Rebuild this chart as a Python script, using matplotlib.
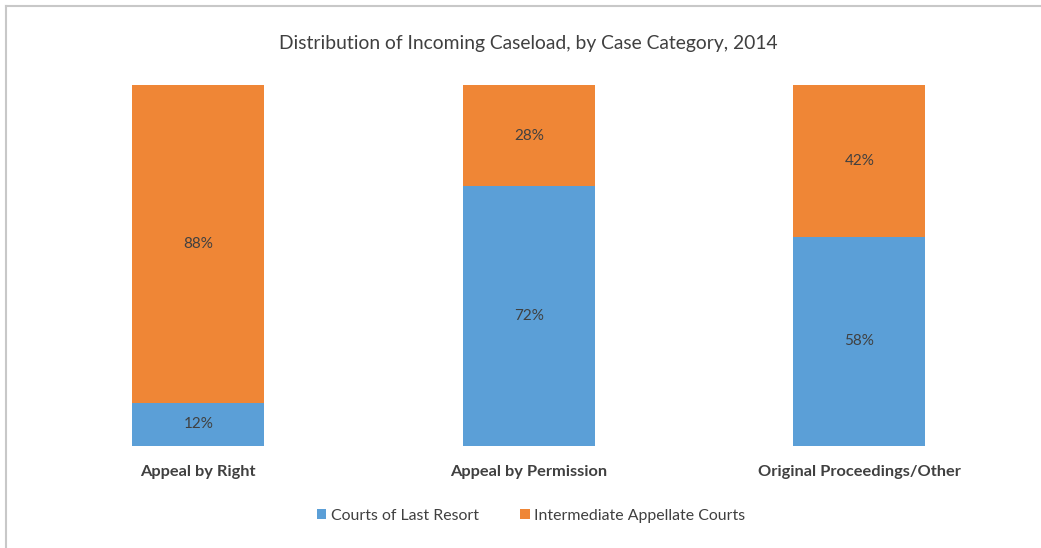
import matplotlib
matplotlib.use("Agg")
import matplotlib.pyplot as plt
from matplotlib.lines import Line2D
from matplotlib.patches import Patch

categories = ["Appeal by Right", "Appeal by Permission", "Original Proceedings/Other"]
last_resort = [12, 72, 58]
intermediate = [88, 28, 42]
series_names = ["Courts of Last Resort", "Intermediate Appellate Courts"]
title = "Distribution of Incoming Caseload, by Case Category, 2014"

BLUE = "#5B9FD7"
ORANGE = "#EF8636"
TXT = "#404040"
FONT = ["Lato", "DejaVu Sans"]

W, H = 1041, 548
fig = plt.figure(figsize=(W / 100, H / 100), dpi=100)
fig.patch.set_facecolor("white")

# axes: bars from y=85 (100%) to y=446 (0); categories spacing 330.5 px
left_px, right_px = 33, 1024.5
top_px, bot_px = 85, 446
ax = fig.add_axes([left_px / W, 1 - bot_px / H, (right_px - left_px) / W, (bot_px - top_px) / H])
x = list(range(len(categories)))
bw = 0.399
ax.bar(x, last_resort, width=bw, color=BLUE, label=series_names[0])
ax.bar(x, intermediate, width=bw, bottom=last_resort, color=ORANGE, label=series_names[1])
for i in x:
    ax.text(i, last_resort[i] / 2, f"{last_resort[i]}%", ha="center", va="center",
            fontsize=11, color=TXT, family=FONT)
    ax.text(i, last_resort[i] + intermediate[i] / 2, f"{intermediate[i]}%", ha="center", va="center",
            fontsize=11, color=TXT, family=FONT)
ax.set_xlim(-0.5, 2.5)
ax.set_ylim(0, 100)
ax.set_yticks([])
ax.set_xticks(x)
ax.set_xticklabels(categories, fontsize=11.8, fontweight="bold", color=TXT, family=FONT)
ax.tick_params(axis="x", length=0, pad=14)
for s in ax.spines.values():
    s.set_visible(False)

fig.text(528 / W, 1 - 44 / H, title, ha="center", va="center", fontsize=13.9, color=TXT, family=FONT)

handles = [Patch(facecolor=BLUE), Patch(facecolor=ORANGE)]
fig.legend(handles, series_names, loc="center", bbox_to_anchor=(531 / W, 1 - 516 / H),
           ncol=2, frameon=False, handlelength=0.6, handleheight=0.6,
           handletextpad=0.3, columnspacing=2.6, labelcolor=TXT, prop={"family": FONT, "size": 11.4})

# light gray frame (top and left edges visible)
fig.add_artist(Line2D([5.5 / W, 5.5 / W], [0, 1 - 5.5 / H], color="#C8C8C8", lw=1.5, transform=fig.transFigure))
fig.add_artist(Line2D([5.5 / W, 1], [1 - 5.5 / H, 1 - 5.5 / H], color="#C8C8C8", lw=1.5, transform=fig.transFigure))

fig.savefig("out.png", dpi=100)
